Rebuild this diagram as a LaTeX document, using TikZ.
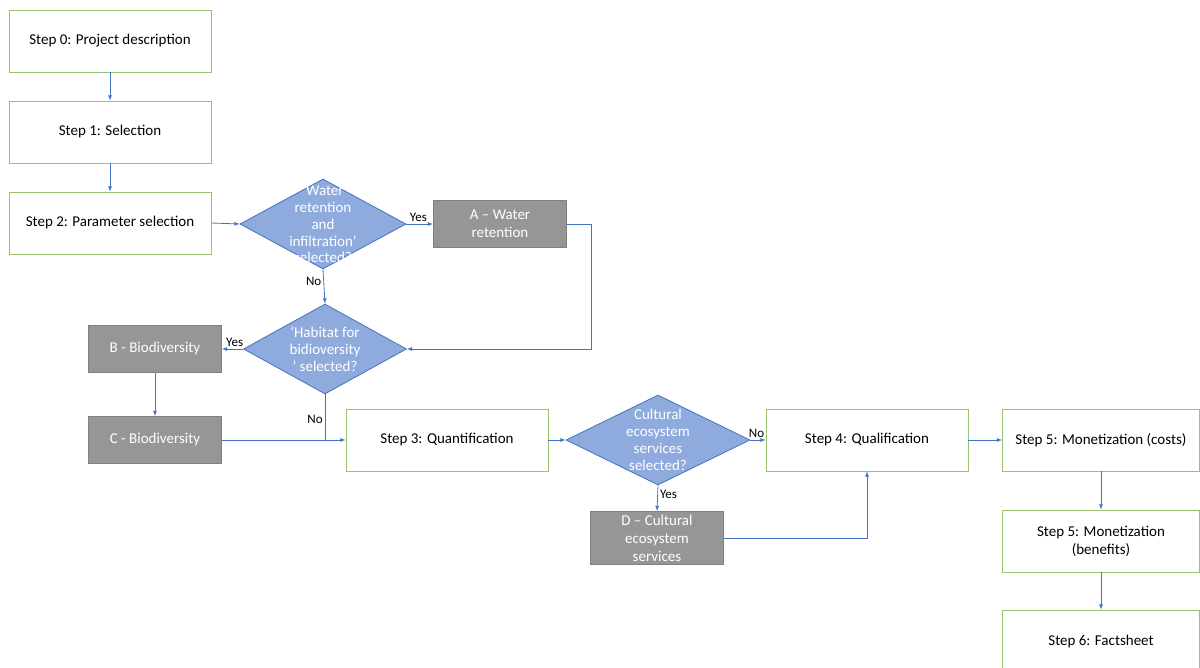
\documentclass[tikz,border=0pt]{standalone}
\usepackage{fontspec}
\setmainfont{Carlito}
\usetikzlibrary{shapes.geometric}

\definecolor{boxgreen}{RGB}{150,196,112}
\definecolor{flowblue}{RGB}{68,114,196}
\definecolor{decfill}{RGB}{143,170,220}
\definecolor{optgray}{RGB}{150,150,150}

\begin{document}
\begin{tikzpicture}[
x=1pt,y=-1pt,
stepbox/.style={
draw=boxgreen,
line width=0.8pt,
align=center,
minimum width=202pt,
minimum height=62pt,
font=\fontsize{15}{18}\selectfont
},
optbox/.style={
draw=optgray!85!black,
fill=optgray,
text=white,
line width=0.8pt,
align=center,
minimum width=133pt,
minimum height=47pt,
font=\fontsize{15}{18}\selectfont
},
decision/.style={
diamond,
draw=flowblue,
fill=decfill,
line width=0.8pt,
inner sep=0pt,
minimum width=166pt,
minimum height=90pt
},
dectext/.style={
text=white,
align=center,
font=\fontsize{15}{16.8}\selectfont
},
lbl/.style={
font=\fontsize{13}{15}\selectfont,
inner sep=2pt
},
flow/.style={
draw=flowblue,
line width=0.8pt,
-latex
}
]

\useasboundingbox (0,0) rectangle (1200,668);

\node[stepbox] (S0) at (110,41) {Step 0: Project description};
\node[stepbox] (S1) at (110,132) {Step 1: Selection};
\node[stepbox] (S2) at (110,223) {Step 2: Parameter selection};

\node[decision] (D1) at (323,224) {};
\node[dectext] (D1t) at (323,224) {‘Water\\retention\\and\\infiltration’\\selected?};

\node[optbox] (A) at (500,224) {A – Water\\retention};

\node[decision, minimum width=163pt] (D2) at (325,349) {};
\node[dectext] (D2t) at (325,349) {‘Habitat for\\bidioversity\\’ selected?};

\node[optbox] (B) at (155,349) {B - Biodiversity};
\node[optbox] (C) at (155,440) {C - Biodiversity};

\node[stepbox] (S3) at (447,440) {Step 3: Quantification};

\node[decision, minimum width=184pt] (D3) at (658,440) {};
\node[dectext] (D3t) at (658,440) {Cultural\\ecosystem\\services\\selected?};

\node[optbox] (D) at (657,538) {D – Cultural\\ecosystem\\services};

\node[stepbox] (S4) at (867,440) {Step 4: Qualification};

\node[stepbox, minimum width=197pt] (S5a) at (1101,440) {Step 5: Monetization (costs)};
\node[stepbox, minimum width=197pt] (S5b) at (1101,541) {Step 5: Monetization\\(benefits)};
\node[stepbox, minimum width=197pt] (S6) at (1101,641) {Step 6: Factsheet};

\draw[flow] (S0) -- (S1);
\draw[flow] (S1) -- (S2);
\draw[flow] (S2.east) -- (D1.west);
\draw[flow] (D1.east) -- node[lbl, pos=0.45, above] {Yes} (A.west);
\draw[flow] (A.east) -- ++(24,0) |- (D2.east);
\draw[flow] (D1.south) -- node[lbl, pos=0.35, left] {No} (D2.north);
\draw[flow] (D2.west) -- node[lbl, pos=0.4, above] {Yes} (B.east);
\draw[flow] (B) -- (C);
\draw[flow] (C.east) -- (S3.west);
\draw[draw=flowblue, line width=0.8pt] (D2.south) -- node[lbl, pos=0.55, left] {No} (D2.south |- S3.west);
\draw[flow] (S3.east) -- (D3.west);
\draw[flow] (D3.east) -- node[lbl, pos=0.4, above] {No} (S4.west);
\draw[flow] (D3.south) -- node[lbl, pos=0.35, right] {Yes} (D.north);
\draw[flow] (D.east) -| (S4.south);
\draw[flow] (S4.east) -- (S5a.west);
\draw[flow] (S5a) -- (S5b);
\draw[flow] (S5b) -- (S6);

\end{tikzpicture}
\end{document}
